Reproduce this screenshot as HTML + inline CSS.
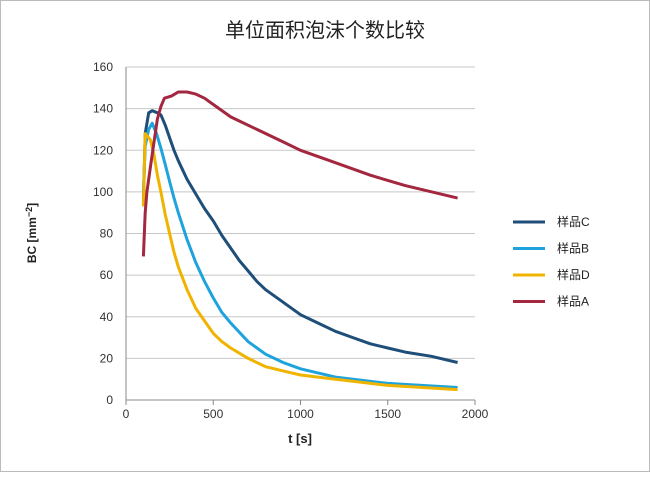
<!DOCTYPE html>
<html><head><meta charset="utf-8"><style>
body{margin:0;background:#fff}
svg{font-family:"Liberation Sans","Noto Sans CJK SC",sans-serif}
</style></head><body>
<svg width="650" height="472">
<rect x="0.5" y="0.5" width="649" height="471" fill="#fff" stroke="#bbb"/>
<text x="325" y="37" text-anchor="middle" font-size="20" fill="#222">单位面积泡沫个数比较</text>
<g id="grid"></g>
<g id="axes"></g>
<g id="series"></g>
<text x="36" y="233" transform="rotate(-90 36 233)" text-anchor="middle" font-size="12" font-weight="bold" fill="#222">BC [mm<tspan font-size="9" dy="-4">−2</tspan><tspan dy="4">]</tspan></text>
<text x="300" y="443" text-anchor="middle" font-size="13" font-weight="bold" fill="#222">t [s]</text>
<g id="legend"></g>
</svg>
<script>
const xTicks=[0,500,1000,1500,2000];
const yTicks=[0,20,40,60,80,100,120,140,160];
const seriesNames=["样品C","样品B","样品D","样品A"];
const seriesColors=["#1f4e79","#1fa3dc","#f0b400","#a3273f"];
const tC=[100,110,130,150,180,200,225,250,275,300,350,400,450,500,550,600,650,700,750,800,900,1000,1100,1200,1300,1400,1500,1600,1750,1900];
const vC=[95,128,138,139,138,137,132,126,120,115,106,99,92,86,79,73,67,62,57,53,47,41,37,33,30,27,25,23,21,18];
const tB=[100,110,130,150,175,200,225,250,275,300,350,400,450,500,550,600,700,800,900,1000,1200,1500,1900];
const vB=[100,122,130,133,128,121,113,105,97,90,77,66,57,49,42,37,28,22,18,15,11,8,6];
const tD=[100,110,140,160,180,200,225,250,275,300,350,400,450,500,550,600,700,800,900,1000,1200,1500,1900];
const vD=[93,128,125,118,108,100,89,80,71,64,53,44,38,32,28,25,20,16,14,12,10,7,5];
const tA=[100,110,120,150,180,200,220,260,300,350,400,450,500,600,750,900,1000,1200,1400,1600,1900];
const vA=[69,90,100,118,135,141,145,146,148,148,147,145,142,136,130,124,120,114,108,103,97];
const sx=t=>126+t*(475-126)/2000;
const sy=v=>400-v*(400-67)/160;
const NS="http://www.w3.org/2000/svg";
function mk(tag,attrs,parent){const e=document.createElementNS(NS,tag);for(const k in attrs)e.setAttribute(k,attrs[k]);parent.appendChild(e);return e;}
const grid=document.getElementById('grid'),axes=document.getElementById('axes');
yTicks.forEach(v=>{
 if(v>0){const l=mk('line',{x1:126,x2:475,y1:sy(v),y2:sy(v),stroke:'#c8c8c8'},grid);
 
 }
 const t=mk('text',{x:113,y:sy(v)+4,'text-anchor':'end','font-size':12,fill:'#333'},axes);t.textContent=v;
 
 
});
xTicks.forEach(v=>{
 const t=mk('text',{x:sx(v),y:418,'text-anchor':'middle','font-size':12,fill:'#333'},axes);t.textContent=v;
 
 
 const k=mk('line',{x1:sx(v),x2:sx(v),y1:400,y2:405,stroke:'#888'},axes);
 
 
});
const xa=mk('line',{x1:126,x2:475,y1:400,y2:400,stroke:'#888'},axes);


const ya=mk('line',{x1:126,x2:126,y1:67,y2:400,stroke:'#888'},axes);


const data=[[tC,vC],[tB,vB],[tD,vD],[tA,vA]];
const sg=document.getElementById('series'),lg=document.getElementById('legend');
data.forEach((d,i)=>{
 const pts=d[0].map((t,j)=>sx(t).toFixed(1)+','+sy(d[1][j]).toFixed(1)).join(' ');
 const p=mk('polyline',{points:pts,fill:'none',stroke:seriesColors[i],'stroke-width':3,'stroke-linejoin':'round'},sg);
 
 
 const y=222+i*26.5;
 const l=mk('line',{x1:513,x2:545,y1:y,y2:y,stroke:seriesColors[i],'stroke-width':3},lg);
 
 
 const t=mk('text',{x:557,y:y+4,'font-size':12,fill:'#222'},lg);t.textContent=seriesNames[i];
 
 
});
</script>
</body></html>
